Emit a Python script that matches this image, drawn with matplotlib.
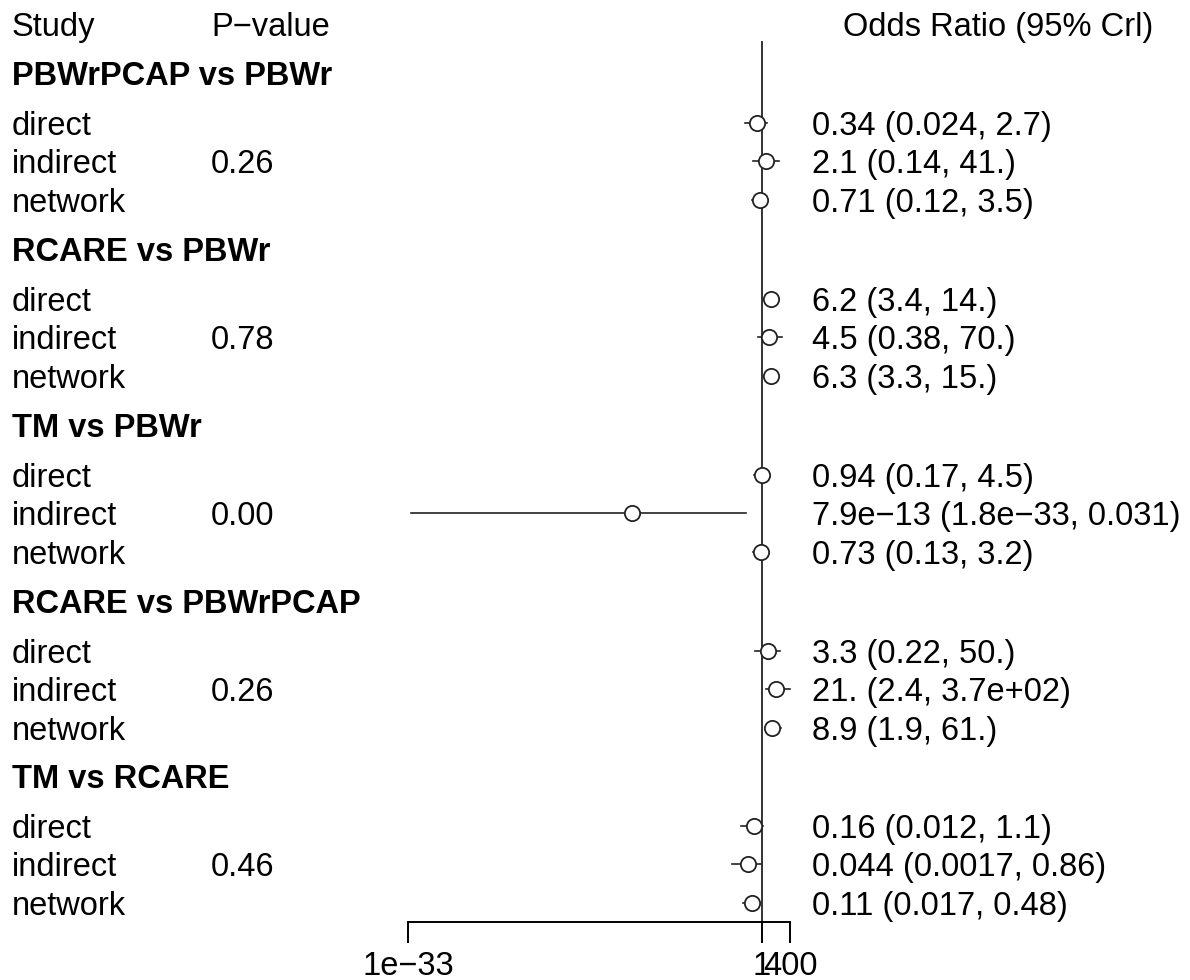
import matplotlib
matplotlib.use("Agg")
import matplotlib.pyplot as plt
from matplotlib.transforms import Bbox, TransformedBbox

plt.rcParams['font.family'] = ['Liberation Sans', 'DejaVu Sans']

groups = ["PBWrPCAP vs PBWr", "RCARE vs PBWr", "TM vs PBWr", "RCARE vs PBWrPCAP", "TM vs RCARE"]
row_labels = ["direct", "indirect", "network"]
p_values = ["0.26", "0.78", "0.00", "0.26", "0.46"]
est = [[0.34, 2.1, 0.71], [6.2, 4.5, 6.3], [0.94, 7.9e-13, 0.73], [3.3, 21, 8.9], [0.16, 0.044, 0.11]]
lower = [[0.024, 0.14, 0.12], [3.4, 0.38, 3.3], [0.17, 1.8e-33, 0.13], [0.22, 2.4, 1.9], [0.012, 0.0017, 0.017]]
upper = [[2.7, 41, 3.5], [14, 70, 15], [4.5, 0.031, 3.2], [50, 370, 61], [1.1, 0.86, 0.48]]
labels_ci = [["0.34 (0.024, 2.7)", "2.1 (0.14, 41.)", "0.71 (0.12, 3.5)"],
             ["6.2 (3.4, 14.)", "4.5 (0.38, 70.)", "6.3 (3.3, 15.)"],
             ["0.94 (0.17, 4.5)", "7.9e\u221213 (1.8e\u221233, 0.031)", "0.73 (0.13, 3.2)"],
             ["3.3 (0.22, 50.)", "21. (2.4, 3.7e+02)", "8.9 (1.9, 61.)"],
             ["0.16 (0.012, 1.1)", "0.044 (0.0017, 0.86)", "0.11 (0.017, 0.48)"]]
tick_vals = [1e-33, 1, 400]
tick_labels = ["1e\u221233", "1", "400"]

# layout (pixel baselines)
header_base = 36
title_base = [85, 261, 437, 613, 788]
row_off = [50, 88, 127]
mark_dy = -12  # marker centre relative to text baseline

W, H = 1190, 980
fig = plt.figure(figsize=(W / 100, H / 100), dpi=100)
fs = 23.5

# text layer in pixel coordinates
tax = fig.add_axes([0, 0, 1, 1])
tax.set_xlim(0, W)
tax.set_ylim(H, 0)
tax.axis('off')

tax.text(12, header_base, "Study", fontsize=fs, va='baseline', ha='left')
tax.text(211, header_base, "P\u2212value", fontsize=fs, va='baseline', ha='left')
tax.text(843, header_base, "Odds Ratio (95% Crl)", fontsize=fs, va='baseline', ha='left')

clip = TransformedBbox(Bbox([[0, 0], [274, H]]), tax.transData)

for g, name in enumerate(groups):
    tax.text(12, title_base[g], name, fontsize=fs, fontweight='bold', va='baseline', ha='left')
    for r, lab in enumerate(row_labels):
        yb = title_base[g] + row_off[r]
        tax.text(12, yb, lab, fontsize=fs, va='baseline', ha='left')
        tax.text(812, yb, labels_ci[g][r], fontsize=fs, va='baseline', ha='left')
    t = tax.text(211, title_base[g] + row_off[1], p_values[g], fontsize=fs, va='baseline', ha='left')
    t.set_clip_on(True)
    t.set_clip_box(clip)

# data axis
x0, x1 = 408, 790
ybot = 922
ax = fig.add_axes([x0 / W, (H - ybot) / H, (x1 - x0) / W, ybot / H])
ax.patch.set_alpha(0)
ax.set_xscale('log')
ax.set_xlim(1e-33, 400)
ax.set_ylim(ybot, 0)
for s in ['top', 'right', 'left']:
    ax.spines[s].set_visible(False)
ax.spines['bottom'].set_linewidth(1.4)
ax.set_yticks([])
ax.xaxis.set_minor_locator(matplotlib.ticker.NullLocator())
ax.set_xticks(tick_vals)
ax.set_xticklabels(tick_labels, fontsize=fs)
ax.tick_params(axis='x', length=15, width=1.4, pad=6, direction='out')

ax.plot([1, 1], [42, ybot], color='#333333', lw=1.4, zorder=1, clip_on=False)

for g in range(len(groups)):
    for r in range(3):
        y = title_base[g] + row_off[r] + mark_dy
        ax.plot([lower[g][r], upper[g][r]], [y, y], color='#222222', lw=1.2, clip_on=False, zorder=2)
        ax.plot([est[g][r]], [y], marker='o', markersize=11, markerfacecolor='white',
                markeredgecolor='#222222', markeredgewidth=1.3, clip_on=False, zorder=3)

fig.savefig("out.png", dpi=100)
